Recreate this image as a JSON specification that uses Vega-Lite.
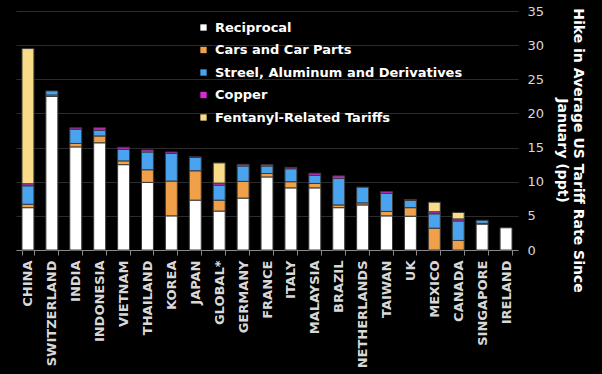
{
  "$schema": "https://vega.github.io/schema/vega-lite/v6.json",
  "autosize": "none",
  "width": 502,
  "height": 239,
  "padding": {"left": 16, "top": 11, "right": 84, "bottom": 124},
  "background": "#000000",
  "config": {
    "view": {"stroke": null},
    "font": "DejaVu Sans",
    "axis": {"labelFont": "DejaVu Sans", "titleFont": "DejaVu Sans"}
  },
  "data": {
    "values": [
      {"c": "CHINA", "t": "Reciprocal", "k": 1, "v": 6.2},
      {"c": "CHINA", "t": "Cars and Car Parts", "k": 2, "v": 0.5},
      {"c": "CHINA", "t": "Streel, Aluminum and Derivatives", "k": 3, "v": 2.7},
      {"c": "CHINA", "t": "Copper", "k": 4, "v": 0.3},
      {"c": "CHINA", "t": "Fentanyl-Related Tariffs", "k": 5, "v": 19.8},
      {"c": "SWITZERLAND", "t": "Reciprocal", "k": 1, "v": 22.5},
      {"c": "SWITZERLAND", "t": "Cars and Car Parts", "k": 2, "v": 0.2},
      {"c": "SWITZERLAND", "t": "Streel, Aluminum and Derivatives", "k": 3, "v": 0.6},
      {"c": "INDIA", "t": "Reciprocal", "k": 1, "v": 15.1},
      {"c": "INDIA", "t": "Cars and Car Parts", "k": 2, "v": 0.5},
      {"c": "INDIA", "t": "Streel, Aluminum and Derivatives", "k": 3, "v": 2.1},
      {"c": "INDIA", "t": "Copper", "k": 4, "v": 0.2},
      {"c": "INDONESIA", "t": "Reciprocal", "k": 1, "v": 15.7},
      {"c": "INDONESIA", "t": "Cars and Car Parts", "k": 2, "v": 1.0},
      {"c": "INDONESIA", "t": "Streel, Aluminum and Derivatives", "k": 3, "v": 0.85},
      {"c": "INDONESIA", "t": "Copper", "k": 4, "v": 0.35},
      {"c": "VIETNAM", "t": "Reciprocal", "k": 1, "v": 12.5},
      {"c": "VIETNAM", "t": "Cars and Car Parts", "k": 2, "v": 0.55},
      {"c": "VIETNAM", "t": "Streel, Aluminum and Derivatives", "k": 3, "v": 1.7},
      {"c": "VIETNAM", "t": "Copper", "k": 4, "v": 0.3},
      {"c": "THAILAND", "t": "Reciprocal", "k": 1, "v": 9.9},
      {"c": "THAILAND", "t": "Cars and Car Parts", "k": 2, "v": 1.85},
      {"c": "THAILAND", "t": "Streel, Aluminum and Derivatives", "k": 3, "v": 2.6},
      {"c": "THAILAND", "t": "Copper", "k": 4, "v": 0.3},
      {"c": "KOREA", "t": "Reciprocal", "k": 1, "v": 5.0},
      {"c": "KOREA", "t": "Cars and Car Parts", "k": 2, "v": 5.1},
      {"c": "KOREA", "t": "Streel, Aluminum and Derivatives", "k": 3, "v": 4.05},
      {"c": "KOREA", "t": "Copper", "k": 4, "v": 0.2},
      {"c": "JAPAN", "t": "Reciprocal", "k": 1, "v": 7.3},
      {"c": "JAPAN", "t": "Cars and Car Parts", "k": 2, "v": 4.3},
      {"c": "JAPAN", "t": "Streel, Aluminum and Derivatives", "k": 3, "v": 1.95},
      {"c": "JAPAN", "t": "Copper", "k": 4, "v": 0.1},
      {"c": "GLOBAL*", "t": "Reciprocal", "k": 1, "v": 5.7},
      {"c": "GLOBAL*", "t": "Cars and Car Parts", "k": 2, "v": 1.6},
      {"c": "GLOBAL*", "t": "Streel, Aluminum and Derivatives", "k": 3, "v": 2.2},
      {"c": "GLOBAL*", "t": "Copper", "k": 4, "v": 0.3},
      {"c": "GLOBAL*", "t": "Fentanyl-Related Tariffs", "k": 5, "v": 2.95},
      {"c": "GERMANY", "t": "Reciprocal", "k": 1, "v": 7.6},
      {"c": "GERMANY", "t": "Cars and Car Parts", "k": 2, "v": 2.45},
      {"c": "GERMANY", "t": "Streel, Aluminum and Derivatives", "k": 3, "v": 2.25},
      {"c": "GERMANY", "t": "Copper", "k": 4, "v": 0.25},
      {"c": "FRANCE", "t": "Reciprocal", "k": 1, "v": 10.7},
      {"c": "FRANCE", "t": "Cars and Car Parts", "k": 2, "v": 0.5},
      {"c": "FRANCE", "t": "Streel, Aluminum and Derivatives", "k": 3, "v": 1.1},
      {"c": "FRANCE", "t": "Copper", "k": 4, "v": 0.2},
      {"c": "ITALY", "t": "Reciprocal", "k": 1, "v": 9.1},
      {"c": "ITALY", "t": "Cars and Car Parts", "k": 2, "v": 0.9},
      {"c": "ITALY", "t": "Streel, Aluminum and Derivatives", "k": 3, "v": 1.9},
      {"c": "ITALY", "t": "Copper", "k": 4, "v": 0.2},
      {"c": "MALAYSIA", "t": "Reciprocal", "k": 1, "v": 9.1},
      {"c": "MALAYSIA", "t": "Cars and Car Parts", "k": 2, "v": 0.65},
      {"c": "MALAYSIA", "t": "Streel, Aluminum and Derivatives", "k": 3, "v": 1.2},
      {"c": "MALAYSIA", "t": "Copper", "k": 4, "v": 0.3},
      {"c": "BRAZIL", "t": "Reciprocal", "k": 1, "v": 6.2},
      {"c": "BRAZIL", "t": "Cars and Car Parts", "k": 2, "v": 0.4},
      {"c": "BRAZIL", "t": "Streel, Aluminum and Derivatives", "k": 3, "v": 3.9},
      {"c": "BRAZIL", "t": "Copper", "k": 4, "v": 0.35},
      {"c": "NETHERLANDS", "t": "Reciprocal", "k": 1, "v": 6.6},
      {"c": "NETHERLANDS", "t": "Cars and Car Parts", "k": 2, "v": 0.3},
      {"c": "NETHERLANDS", "t": "Streel, Aluminum and Derivatives", "k": 3, "v": 2.3},
      {"c": "TAIWAN", "t": "Reciprocal", "k": 1, "v": 5.0},
      {"c": "TAIWAN", "t": "Cars and Car Parts", "k": 2, "v": 0.65},
      {"c": "TAIWAN", "t": "Streel, Aluminum and Derivatives", "k": 3, "v": 2.65},
      {"c": "TAIWAN", "t": "Copper", "k": 4, "v": 0.25},
      {"c": "UK", "t": "Reciprocal", "k": 1, "v": 4.95},
      {"c": "UK", "t": "Cars and Car Parts", "k": 2, "v": 1.25},
      {"c": "UK", "t": "Streel, Aluminum and Derivatives", "k": 3, "v": 1.05},
      {"c": "UK", "t": "Copper", "k": 4, "v": 0.15},
      {"c": "MEXICO", "t": "Cars and Car Parts", "k": 2, "v": 3.2},
      {"c": "MEXICO", "t": "Streel, Aluminum and Derivatives", "k": 3, "v": 2.1},
      {"c": "MEXICO", "t": "Copper", "k": 4, "v": 0.3},
      {"c": "MEXICO", "t": "Fentanyl-Related Tariffs", "k": 5, "v": 1.4},
      {"c": "CANADA", "t": "Cars and Car Parts", "k": 2, "v": 1.4},
      {"c": "CANADA", "t": "Streel, Aluminum and Derivatives", "k": 3, "v": 2.85},
      {"c": "CANADA", "t": "Copper", "k": 4, "v": 0.3},
      {"c": "CANADA", "t": "Fentanyl-Related Tariffs", "k": 5, "v": 0.95},
      {"c": "SINGAPORE", "t": "Reciprocal", "k": 1, "v": 3.8},
      {"c": "SINGAPORE", "t": "Cars and Car Parts", "k": 2, "v": 0.1},
      {"c": "SINGAPORE", "t": "Streel, Aluminum and Derivatives", "k": 3, "v": 0.45},
      {"c": "IRELAND", "t": "Reciprocal", "k": 1, "v": 3.25}
    ]
  },
  "mark": {"type": "bar", "stroke": "#3a3a3a", "strokeWidth": 1},
  "encoding": {
    "x": {
      "field": "c",
      "type": "nominal",
      "sort": null,
      "scale": {"paddingInner": 0.5, "paddingOuter": 0.25},
      "axis": {
        "title": null,
        "labelAngle": -90,
        "labelAlign": "right",
        "labelBaseline": "middle",
        "labelColor": "#d8d8d8",
        "labelFontSize": 13,
        "labelFontWeight": "bold",
        "labelPadding": 5,
        "domainColor": "#8a8a8a",
        "tickColor": "#8a8a8a",
        "tickBand": "extent",
        "tickSize": 5
      }
    },
    "y": {
      "field": "v",
      "type": "quantitative",
      "stack": "zero",
      "scale": {"domain": [0, 35], "nice": false},
      "axis": {
        "orient": "right",
        "values": [0, 5, 10, 15, 20, 25, 30, 35],
        "title": ["Hike in Average US Tariff Rate Since", "January (ppt)"],
        "titleColor": "#ffffff",
        "titleFontSize": 14,
        "titleLineHeight": 16,
        "titleFontWeight": "bold",
        "titlePadding": 11,
        "titleY": 139,
        "labelColor": "#d8d8d8",
        "labelFontSize": 13,
        "labelPadding": 9,
        "domain": false,
        "ticks": false,
        "gridColor": "#2c2c2c",
        "gridWidth": 1
      }
    },
    "color": {
      "field": "t",
      "type": "nominal",
      "scale": {
        "domain": ["Reciprocal", "Cars and Car Parts", "Streel, Aluminum and Derivatives", "Copper", "Fentanyl-Related Tariffs"],
        "range": ["#ffffff", "#f0a048", "#4aa3ee", "#d92ad9", "#f8dc88"]
      },
      "legend": {
        "title": null,
        "orient": "none",
        "legendX": 181,
        "legendY": 10,
        "symbolType": "square",
        "symbolSize": 40,
        "symbolStrokeWidth": 0,
        "labelColor": "#ffffff",
        "labelFontSize": 13,
        "labelFontWeight": "bold",
        "labelFont": "DejaVu Sans",
        "labelLimit": 0,
        "rowPadding": 8.5,
        "labelOffset": 5
      }
    },
    "order": {"field": "k", "type": "quantitative"}
  }
}
